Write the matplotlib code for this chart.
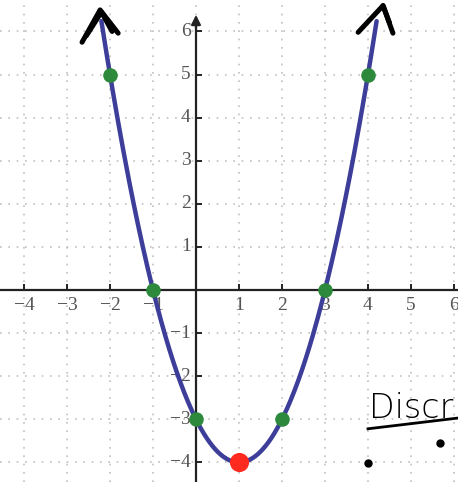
import numpy as np
import matplotlib.pyplot as plt

# f(x) = x^2 - 2x - 3
a, b, c = 1, -2, -3
x_curve_lim = [-2.2, 4.2]

pts_x = [-2, -1, 0, 2, 3, 4]
pts_y = [5, 0, -3, -3, 0, 5]
vertex = (1, -4)

xticks = [-4, -3, -2, -1, 1, 2, 3, 4, 5, 6]
yticks = [-4, -3, -2, -1, 1, 2, 3, 4, 5, 6]

fig = plt.figure(figsize=(4.58, 4.82), dpi=100)
ax = fig.add_axes([0, 0, 1, 1])
ax.set_xlim(-4.558, 6.093)
ax.set_ylim(-4.455, 6.73)
ax.axis('off')

# dotted grid
for g in range(-4, 7):
    ax.axvline(g, color='#c0c0c0', lw=1.2, ls=(0, (1, 4)), zorder=0)
    ax.axhline(g, color='#c0c0c0', lw=1.2, ls=(0, (1, 4)), zorder=0)

# axes
ax.axhline(0, color='#222222', lw=1.6, zorder=1)
ax.plot([0, 0], [-4.5, 6.3], color='#222222', lw=1.6, zorder=1)
ax.annotate('', xy=(0, 6.45), xytext=(0, 6.0),
            arrowprops=dict(arrowstyle='-|>', color='#222222', lw=1.6,
                            mutation_scale=14), zorder=1)

tk = 0.12
for t in xticks:
    ax.plot([t, t], [0, tk], color='#222222', lw=1.4, zorder=1)
    ax.text(t, -0.17, '\u2212' + str(-t) if t < 0 else str(t),
            ha='center', va='top', fontsize=14, family='Liberation Serif',
            color='#555555')
for t in yticks:
    ax.plot([0, tk], [t, t], color='#222222', lw=1.4, zorder=1)
    ax.text(-0.12, t, '\u2212' + str(-t) if t < 0 else str(t),
            ha='right', va='center', fontsize=14, family='Liberation Serif',
            color='#555555')

# parabola
xs = np.linspace(x_curve_lim[0], x_curve_lim[1], 300)
ys = a * xs**2 + b * xs + c
ax.plot(xs, ys, color='#3d3d9a', lw=3.2, zorder=3, solid_capstyle='round')

ax.scatter(pts_x, pts_y, s=110, color='#2d8a3c', zorder=4, linewidths=0)
ax.scatter([vertex[0]], [vertex[1]], s=190, color='#ff2a1f', zorder=5,
           linewidths=0)

# hand-drawn arrow tips
ink = dict(color='black', lw=3.6, solid_capstyle='round',
           solid_joinstyle='round', zorder=6)
ax.plot([-2.65, -2.23, -1.81], [5.75, 6.5, 5.96], **ink)
ax.plot([-2.55, -2.2, -1.95], [5.9, 6.45, 6.0], **ink)
ax.plot([3.77, 4.35, 4.58], [5.98, 6.6, 5.96], **ink)
ax.plot([4.35, 4.5], [6.6, 6.2], **ink)

# handwritten note
ax.text(4.02, -2.98, 'Discr', fontsize=24, family='DejaVu Sans',
        fontweight='light', color='black', ha='left', va='baseline',
        zorder=6)
ax.plot([4.0, 6.1], [-3.22, -2.97], color='black', lw=2, zorder=6)
ax.scatter([4.0, 5.67], [-4.01, -3.55], s=25, color='black', zorder=6)

fig.savefig('out.png', dpi=100)
